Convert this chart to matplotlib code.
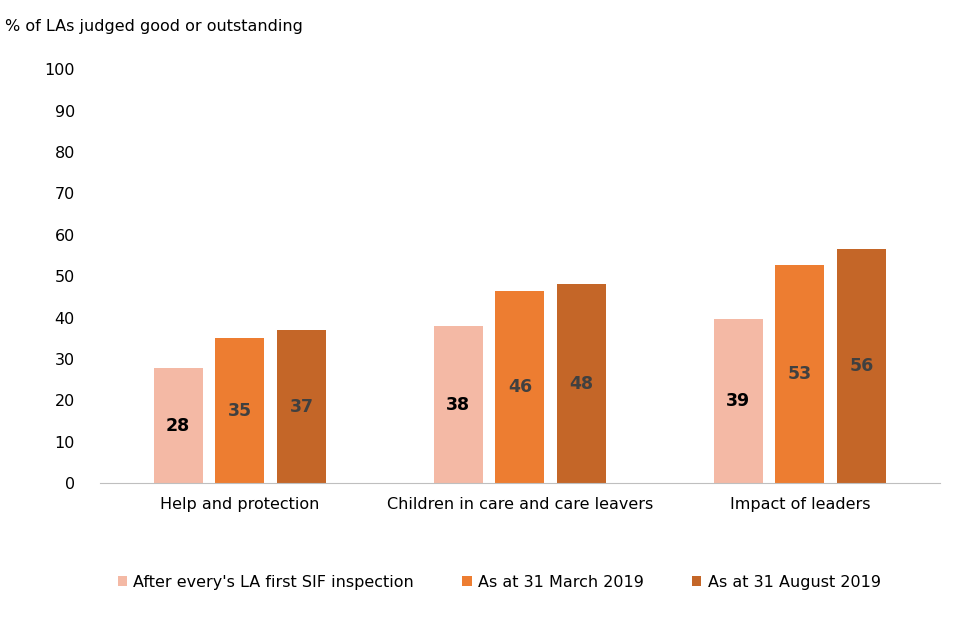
import matplotlib.pyplot as plt
import numpy as np

# --- Data ---
categories = ['Help and protection', 'Children in care and care leavers', 'Impact of leaders']
series_names = ["After every's LA first SIF inspection", 'As at 31 March 2019', 'As at 31 August 2019']
first_sif = [27.8, 37.9, 39.6]
march_2019 = [35.0, 46.4, 52.7]
august_2019 = [37.0, 48.1, 56.5]
labels = [[28, 38, 39], [35, 46, 53], [37, 48, 56]]

colors = ['#F4B9A5', '#ED7D31', '#C46628']
label_colors = ['#000000', '#404040', '#404040']

plt.rcParams['font.family'] = ['DejaVu Sans']

fig = plt.figure(figsize=(9.6, 6.4), dpi=100)
ax = fig.add_axes([0.104, 0.245, 0.875, 0.647])

x = np.arange(len(categories))
width = 0.175
step = 0.22
all_series = [first_sif, march_2019, august_2019]

for i, (vals, name) in enumerate(zip(all_series, series_names)):
    bars = ax.bar(x + (i - 1) * step, vals, width, color=colors[i], label=name)
    for b, lab in zip(bars, labels[i]):
        ax.text(b.get_x() + b.get_width() / 2, b.get_height() / 2, str(lab),
                ha='center', va='center', fontsize=12.5, fontweight='bold',
                color=label_colors[i])

ax.set_xlim(-0.5, 2.5)
ax.set_ylim(0, 100)
ax.set_yticks(range(0, 101, 10))
ax.set_xticks(x)
ax.set_xticklabels(categories)
ax.tick_params(axis='both', length=0, labelsize=11.5, colors='#000000')
ax.tick_params(axis='y', pad=18)
ax.tick_params(axis='x', pad=10)
for s in ['top', 'right', 'left']:
    ax.spines[s].set_visible(False)
ax.spines['bottom'].set_color('#BFBFBF')

fig.text(0.005, 0.958, '% of LAs judged good or outstanding', fontsize=11.5, va='center')

fig.legend(loc='center', bbox_to_anchor=(0.52, 0.09), ncol=3, frameon=False,
           fontsize=11.5, handlelength=0.6, handleheight=0.6, columnspacing=3.0,
           handletextpad=0.4)

plt.savefig('out.png', dpi=100)
